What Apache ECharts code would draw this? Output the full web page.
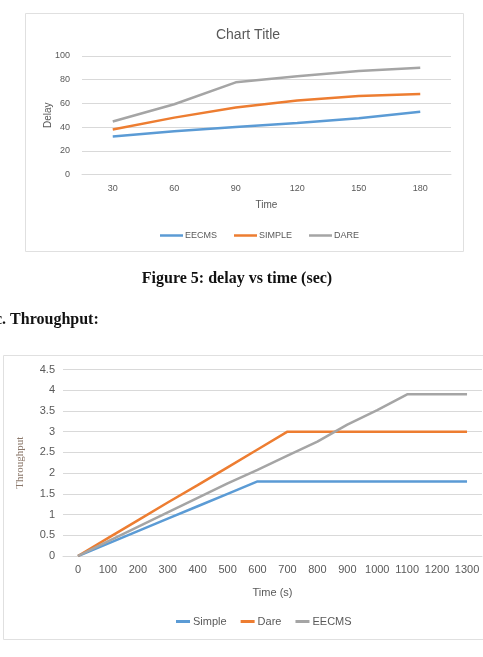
<!DOCTYPE html>
<html>
<head>
	<meta charset="utf-8">
	<title></title>
	<script src="https://cdn.jsdelivr.net/npm/echarts@6/dist/echarts.min.js"></script>
	<style>
		html,body{margin:0;padding:0;background:#fff;}
		#main{width:483px;height:657px;}
	</style>
</head>
<body>
	<div id="main"></div>
<script type="text/javascript">
	// figure 5: delay vs time
	var delayTime=['30','60','90','120','150','180'];
	var delayEecms=[32,36.5,40,43.5,47.5,53];
	var delaySimple=[38,48,56.5,62.5,66.3,68];
	var delayDare=[44.7,59.3,77.8,82.9,87.4,90];

	// throughput vs time
	var tpTime=['0','100','200','300','400','500','600','700','800','900','1000','1100','1200','1300'];
	var tpSimple=[0,0.3,0.6,0.9,1.2,1.5,1.8,1.8,1.8,1.8,1.8,1.8,1.8,1.8];
	var tpDare=[0,0.43,0.86,1.29,1.71,2.14,2.57,3,3,3,3,3,3,3];
	var tpEecms=[0,0.35,0.7,1.05,1.4,1.75,2.08,2.42,2.76,3.17,3.52,3.9,3.9,3.9];

	var blue='#5B9BD5',orange='#ED7D31',gray='#A5A5A5';
	var lbl='#595959',grid='#d9d9d9';
	var sans='"Liberation Sans", Arial, sans-serif';
	var serif='"Liberation Serif", "Times New Roman", serif';

	var myChart=echarts.init(document.getElementById('main'));
	var option={
		animation:false,
		backgroundColor:'#fff',
		title:{
			text:'Chart Title',
			left:243,
			top:23,
			textAlign:'center',
			textStyle:{color:lbl,fontSize:14,fontWeight:'normal',fontFamily:sans}
		},
		legend:[{
			data:['EECMS','SIMPLE','DARE'],
			left:155,
			top:226,
			icon:'rect',
			itemWidth:23,
			itemHeight:2.5,
			itemGap:17,
			textStyle:{color:lbl,fontSize:9,fontFamily:sans,padding:[0,0,0,-3]}
		},{
			data:['Simple','Dare','EECMS '],
			left:171,
			top:611,
			icon:'rect',
			itemWidth:14,
			itemHeight:3,
			itemGap:14,
			textStyle:{color:lbl,fontSize:11,fontFamily:sans,padding:[0,0,0,-2]}
		}],
		grid:[
			{left:82,right:32,top:56,height:118.5},
			{left:63,right:1,top:369.5,height:186.5}
		],
		xAxis:[{
			type:'category',
			gridIndex:0,
			data:delayTime,
			boundaryGap:true,
			name:'Time',
			nameLocation:'middle',
			nameGap:26,
			nameMoveOverlap:false,
			nameTextStyle:{color:lbl,fontSize:10,fontFamily:sans},
			axisLine:{lineStyle:{color:grid}},
			axisTick:{show:false},
			axisLabel:{color:lbl,fontSize:9,fontFamily:sans,margin:10},
		},{
			type:'category',
			gridIndex:1,
			data:tpTime,
			boundaryGap:true,
			name:'Time (s)',
			nameLocation:'middle',
			nameGap:31,
			nameMoveOverlap:false,
			nameTextStyle:{color:lbl,fontSize:11,fontFamily:sans},
			axisLine:{lineStyle:{color:grid}},
			axisTick:{show:false},
			axisLabel:{color:lbl,fontSize:11,fontFamily:sans,margin:8,interval:0}
		}],
		yAxis:[{
			type:'value',
			gridIndex:0,
			min:0,max:100,interval:20,
			name:'Delay',
			nameLocation:'middle',
			nameGap:29,
			nameMoveOverlap:false,
			nameTextStyle:{color:lbl,fontSize:10,fontFamily:sans},
			axisLine:{show:false},
			axisTick:{show:false},
			axisLabel:{color:lbl,fontSize:9,fontFamily:sans,margin:12},
			splitLine:{lineStyle:{color:grid}}
		},{
			type:'value',
			gridIndex:1,
			min:0,max:4.5,interval:0.5,
			name:'Throughput',
			nameLocation:'middle',
			nameGap:37,
			nameMoveOverlap:false,
			nameTextStyle:{color:'#8a776a',fontSize:11,fontFamily:serif},
			axisLine:{show:false},
			axisTick:{show:false},
			axisLabel:{color:lbl,fontSize:11,fontFamily:sans,margin:8},
			splitLine:{lineStyle:{color:grid}}
		}],
		series:[
			{name:'EECMS',type:'line',xAxisIndex:0,yAxisIndex:0,data:delayEecms,symbol:'none',color:blue,lineStyle:{width:2.5}},
			{name:'SIMPLE',type:'line',xAxisIndex:0,yAxisIndex:0,data:delaySimple,symbol:'none',color:orange,lineStyle:{width:2.5}},
			{name:'DARE',type:'line',xAxisIndex:0,yAxisIndex:0,data:delayDare,symbol:'none',color:gray,lineStyle:{width:2.5}},
			{name:'Simple',type:'line',xAxisIndex:1,yAxisIndex:1,data:tpSimple,symbol:'none',color:blue,lineStyle:{width:2.5}},
			{name:'Dare',type:'line',xAxisIndex:1,yAxisIndex:1,data:tpDare,symbol:'none',color:orange,lineStyle:{width:2.5}},
			{name:'EECMS ',type:'line',xAxisIndex:1,yAxisIndex:1,data:tpEecms,symbol:'none',color:gray,lineStyle:{width:2.5}}
		],
		graphic:[
			{type:'rect',shape:{x:25.5,y:13.5,width:438,height:238},style:{fill:null,stroke:'#e0e0e0',lineWidth:1},z:-1},
			{type:'rect',shape:{x:3.5,y:355.5,width:490,height:284},style:{fill:null,stroke:'#e0e0e0',lineWidth:1},z:-1},
			{type:'text',x:237,y:279,style:{text:'Figure 5: delay vs time (sec)',textAlign:'center',textVerticalAlign:'middle',font:'bold 16px '+serif,fill:'#111'}},
			{type:'text',x:-5,y:320,style:{text:'c. Throughput:',textAlign:'left',textVerticalAlign:'middle',font:'bold 16px '+serif,fill:'#111'}}
		]
	};
	myChart.setOption(option);
</script>
</body>
</html>
